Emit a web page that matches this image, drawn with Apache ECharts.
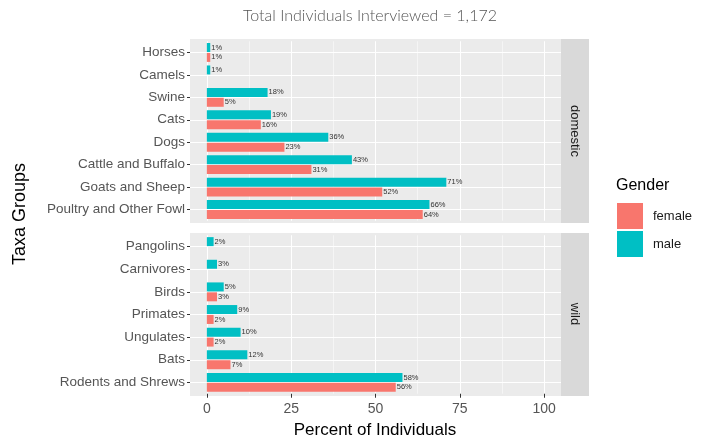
<!DOCTYPE html>
<html>
<head>
<meta charset="utf-8">
<script src="https://cdn.jsdelivr.net/npm/echarts@6/dist/echarts.min.js"></script>
<style>
  html, body { margin: 0; padding: 0; background: #fff; }
  #chart { width: 712px; height: 438px; }
</style>
</head>
<body>
<div id="chart"></div>
<script>
/* taxa groups by facet, percent of individuals by gender */
var domesticGroups = ['Horses', 'Camels', 'Swine', 'Cats', 'Dogs', 'Cattle and Buffalo', 'Goats and Sheep', 'Poultry and Other Fowl'];
var domesticFemale = [1, null, 5, 16, 23, 31, 52, 64];
var domesticMale = [1, 1, 18, 19, 36, 43, 71, 66];

var wildGroups = ['Pangolins', 'Carnivores', 'Birds', 'Primates', 'Ungulates', 'Bats', 'Rodents and Shrews'];
var wildFemale = [null, null, 3, 2, 2, 7, 56];
var wildMale = [2, 3, 5, 9, 10, 12, 58];

var xTicks = [0, 25, 50, 75, 100];
var xMinorTicks = [12.5, 37.5, 62.5, 87.5];

var facetNames = ['domestic', 'wild'];

var FEMALE = '#F8766D', MALE = '#00BFC4';

// panels (ggplot style: 0.6 band of padding above and below the categories)
var panels = [
	{ top: 39, height: 184, n: domesticGroups.length },
	{ top: 233, height: 163, n: wildGroups.length }
];
function gridFor(p) {
	var unit = p.height / (p.n + 0.2);
	return { left: 190, top: p.top + 0.1 * unit, width: 371, height: p.n * unit, outerBoundsMode: 'none', containLabel: false };
}

function idx(arr) {
	return arr.map(function (d, i) { return i; });
}

// x axis for one facet (major grid lines, labels only on the bottom one)
function majorX(grid, showLabels) {
	return {
		type: 'value', gridIndex: grid, min: -5, max: 105, position: 'bottom',
		axisLine: { show: false, onZero: false },
		axisTick: { show: showLabels, customValues: xTicks, length: 4, lineStyle: { color: '#333' } },
		axisLabel: { show: showLabels, customValues: xTicks, color: '#555', fontSize: 14, fontFamily: 'Liberation Sans', margin: 8 },
		splitLine: { show: true, lineStyle: { color: '#fff', width: 1.1 } }
	};
}
function minorX(grid) {
	return {
		type: 'value', gridIndex: grid, min: -5, max: 105, position: 'top',
		axisLine: { show: false, onZero: false },
		axisTick: { show: false, customValues: xMinorTicks },
		axisLabel: { show: false, customValues: xMinorTicks },
		splitLine: { show: true, lineStyle: { color: '#fff', width: 0.5 } }
	};
}
function catY(grid, cats) {
	return {
		type: 'category', gridIndex: grid, data: cats, inverse: true, position: 'left',
		axisLine: { show: false, onZero: false },
		axisTick: { show: true, alignWithLabel: true, length: 3, lineStyle: { color: '#333' } },
		axisLabel: { color: '#555', fontSize: 13.5, fontFamily: 'Liberation Sans', margin: 5 },
		splitLine: { show: false }
	};
}
// hidden value axis that only draws the horizontal grid lines through each category
function lineY(grid, cats) {
	return {
		type: 'value', gridIndex: grid, min: -0.5, max: cats.length - 0.5, inverse: true, position: 'right',
		axisLine: { show: false, onZero: false },
		axisTick: { show: false, customValues: idx(cats) },
		axisLabel: { show: false, customValues: idx(cats) },
		splitLine: { show: true, lineStyle: { color: '#fff', width: 1.1 } }
	};
}

function barSeries(name, color, data, x, y) {
	return {
		name: name, type: 'bar', xAxisIndex: x, yAxisIndex: y,
		data: data, barWidth: 9, barGap: '10%',
		itemStyle: { color: color },
		label: {
			show: true, position: 'right', distance: 1,
			formatter: '{c}%', fontSize: 7.5, color: '#333', fontFamily: 'Liberation Sans'
		}
	};
}

var chart = echarts.init(document.getElementById('chart'));

var option = {
	animation: false,
	backgroundColor: '#fff',
	grid: panels.map(gridFor),
	xAxis: [majorX(0, false), minorX(0), majorX(1, true), minorX(1)],
	yAxis: [catY(0, domesticGroups), lineY(0, domesticGroups), catY(1, wildGroups), lineY(1, wildGroups)],
	legend: {
		data: ['female', 'male'],
		orient: 'vertical', left: 617, top: 203, padding: 0,
		icon: 'rect', itemWidth: 26, itemHeight: 26, itemGap: 2,
		textStyle: { color: '#1A1A1A', fontSize: 13, fontFamily: 'Liberation Sans', padding: [0, 0, 0, 5] }
	},
	series: [
		barSeries('male', MALE, domesticMale, 0, 0),
		barSeries('female', FEMALE, domesticFemale, 0, 0),
		barSeries('male', MALE, wildMale, 2, 2),
		barSeries('female', FEMALE, wildFemale, 2, 2)
	],
	graphic: [
		// panel backgrounds and facet strips
		{ type: 'rect', z: -10, shape: { x: 190, y: panels[0].top, width: 371, height: panels[0].height }, style: { fill: '#EBEBEB' } },
		{ type: 'rect', z: -10, shape: { x: 190, y: panels[1].top, width: 371, height: panels[1].height }, style: { fill: '#EBEBEB' } },
		{ type: 'rect', shape: { x: 561, y: panels[0].top, width: 28, height: panels[0].height }, style: { fill: '#D9D9D9' } },
		{ type: 'rect', shape: { x: 561, y: panels[1].top, width: 28, height: panels[1].height }, style: { fill: '#D9D9D9' } },
		{ type: 'text', x: 575, y: 131, rotation: -Math.PI / 2, style: { text: facetNames[0], fill: '#1A1A1A', font: '13px "Liberation Sans"', align: 'center', verticalAlign: 'middle' } },
		{ type: 'text', x: 575, y: 314, rotation: -Math.PI / 2, style: { text: facetNames[1], fill: '#1A1A1A', font: '13px "Liberation Sans"', align: 'center', verticalAlign: 'middle' } },
		// titles
		{ type: 'text', left: 243, top: 8, style: { text: 'Total Individuals Interviewed = 1,172', fill: '#555', font: '300 16px Lato' } },
		{ type: 'text', x: 375, y: 430, style: { text: 'Percent of Individuals', fill: '#000', font: '17px "Liberation Sans"', align: 'center', verticalAlign: 'middle' } },
		{ type: 'text', x: 11, y: 214, rotation: Math.PI / 2, style: { text: 'Taxa Groups', fill: '#000', font: '18px "Liberation Sans"', align: 'center', verticalAlign: 'top' } },
		{ type: 'text', left: 616, top: 178, style: { text: 'Gender', fill: '#000', font: '16px "Liberation Sans"' } }
	]
};

chart.setOption(option, true);
</script>
</body>
</html>
